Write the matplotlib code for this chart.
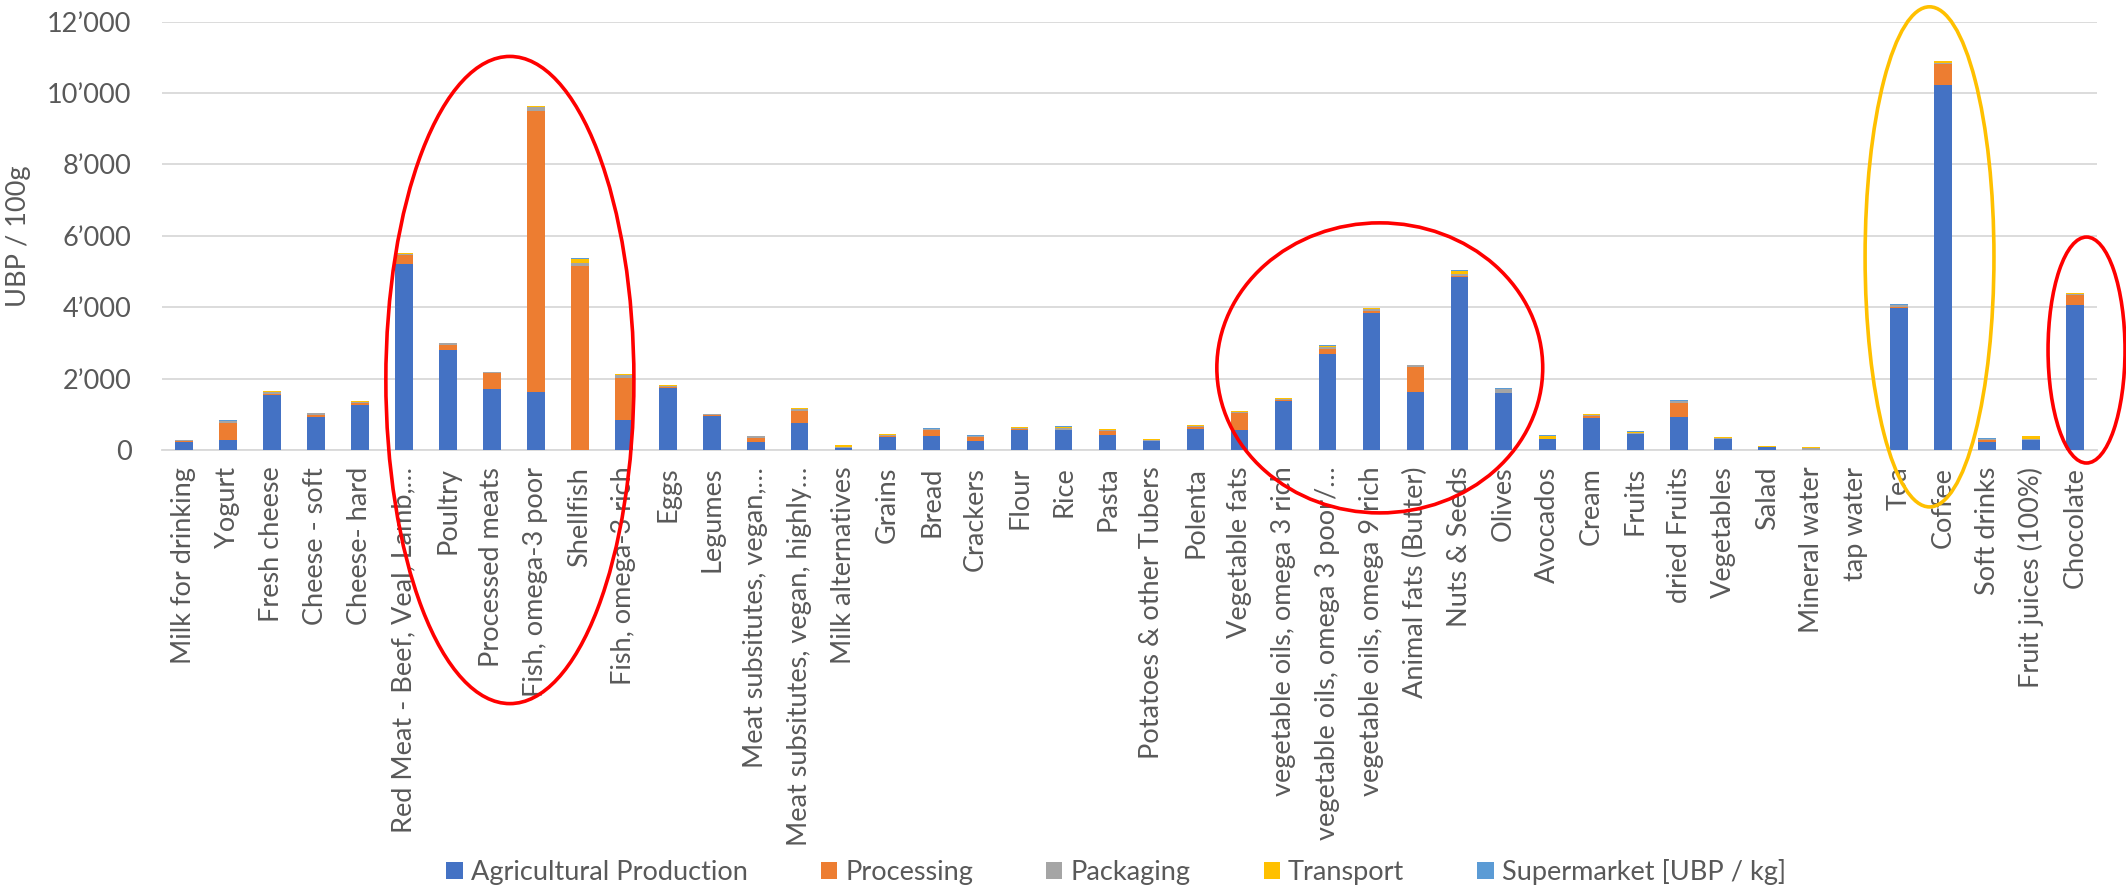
import numpy as np
import matplotlib
matplotlib.use("Agg")
import matplotlib.pyplot as plt
from matplotlib.patches import Ellipse
from matplotlib.ticker import FuncFormatter

plt.rcParams['font.family'] = ['Lato', 'DejaVu Sans']

# categories and stacked values (UBP / 100g)
categories = [
    "Milk for drinking", "Yogurt", "Fresh cheese", "Cheese - soft", "Cheese- hard",
    "Red Meat - Beef, Veal, Lamb,\u2026", "Poultry", "Processed meats",
    "Fish, omega-3 poor", "Shellfish", "Fish, omega-3 rich", "Eggs", "Legumes",
    "Meat subsitutes, vegan,\u2026", "Meat subsitutes, vegan, highly\u2026",
    "Milk alternatives", "Grains", "Bread", "Crackers", "Flour", "Rice", "Pasta",
    "Potatoes & other Tubers", "Polenta", "Vegetable fats",
    "vegetable oils, omega 3 rich", "vegetable oils, omega 3 poor/\u2026",
    "vegetable oils, omega 9 rich", "Animal fats (Butter)", "Nuts & Seeds",
    "Olives", "Avocados", "Cream", "Fruits", "dried Fruits", "Vegetables",
    "Salad", "Mineral water", "tap water", "Tea", "Coffee", "Soft drinks",
    "Fruit juices (100%)", "Chocolate",
]

agricultural = [220, 290, 1530, 925, 1250, 5220, 2810, 1700, 1625, 0, 850, 1750, 950,
                225, 755, 55, 365, 390, 250, 550, 550, 410, 245, 580, 560,
                1370, 2680, 3850, 1635, 4855, 1590, 300, 905, 455, 925, 300,
                75, 0, 0, 3985, 10215, 237, 285, 4060]
processing = [20, 470, 45, 60, 65, 240, 140, 455, 7870, 5160, 1180, 15, 20,
              110, 335, 10, 15, 160, 110, 30, 10, 110, 10, 70, 465,
              40, 150, 55, 700, 30, 5, 0, 45, 0, 395, 10,
              0, 0, 0, 20, 600, 30, 5, 285]
packaging = [30, 50, 55, 40, 40, 35, 45, 25, 100, 65, 65, 40, 30,
             50, 60, 30, 45, 30, 30, 35, 55, 40, 30, 30, 40,
             30, 45, 50, 35, 45, 105, 10, 35, 20, 40, 30,
             10, 45, 0, 45, 30, 45, 25, 35]
transport = [10, 10, 10, 10, 10, 10, 10, 5, 45, 130, 25, 10, 15,
             15, 25, 35, 10, 15, 15, 15, 40, 15, 10, 10, 15,
             10, 45, 25, 15, 95, 20, 90, 10, 40, 20, 10,
             25, 25, 0, 20, 45, 5, 65, 15]
supermarket = [5, 15, 10, 5, 5, 5, 5, 5, 10, 30, 10, 5, 5,
               5, 5, 5, 5, 10, 5, 5, 5, 5, 5, 5, 10,
               5, 20, 10, 5, 25, 15, 10, 5, 10, 15, 5,
               10, 5, 0, 15, 10, 5, 15, 15]

series_names = ["Agricultural Production", "Processing", "Packaging", "Transport",
                "Supermarket [UBP / kg]"]
series_colors = ["#4472C4", "#ED7D31", "#A5A5A5", "#FFC000", "#5B9BD5"]

# highlight ellipses: (x centre in category units, y centre, width, height, colour)
highlights = [
    (7.41, 1960, 5.64, 18130, "#FF0000"),
    (27.19, 2300, 7.41, 8125, "#FF0000"),
    (39.69, 5410, 2.93, 14010, "#FFC000"),
    (43.26, 2800, 1.75, 6330, "#FF0000"),
]

text_color = "#595959"
grid_color = "#D9D9D9"
fs = 19.5

fig = plt.figure(figsize=(21.26, 8.9), dpi=100)
ax = fig.add_axes([0.0762, 0.4944, 0.9102, 0.4813])

x = np.arange(len(categories))
bottom = np.zeros(len(categories))
for name, vals, col in zip(series_names,
                           [agricultural, processing, packaging, transport, supermarket],
                           series_colors):
    vals = np.array(vals, dtype=float)
    ax.bar(x, vals, width=0.4, bottom=bottom, color=col, label=name, zorder=3)
    bottom += vals

ax.set_xlim(-0.5, len(categories) - 0.5)
ax.set_ylim(0, 12000)
ax.set_yticks(np.arange(0, 12001, 2000))
ax.yaxis.set_major_formatter(FuncFormatter(lambda v, p: f"{int(v):,}".replace(",", "\u2019")))
ax.set_xticks(x)
ax.set_xticklabels(categories, rotation=90, fontsize=fs, color=text_color)
ax.tick_params(axis='y', length=0, pad=22, labelsize=fs, labelcolor=text_color)
ax.tick_params(axis='x', length=0, pad=12)

ax.grid(axis='y', color=grid_color, linewidth=1.3, zorder=0)
for s in ['top', 'right', 'left']:
    ax.spines[s].set_visible(False)
ax.spines['bottom'].set_color(grid_color)
ax.spines['bottom'].set_linewidth(1.3)

# y label sits close to the figure edge
ax.set_ylabel("UBP / 100g", fontsize=fs, color=text_color)
ax.yaxis.set_label_coords(31 / 2126, 0.7350, transform=fig.transFigure)

for cx, cy, w, h, col in highlights:
    ax.add_patch(Ellipse((cx, cy), w, h, fill=False, edgecolor=col, linewidth=2.6,
                         clip_on=False, zorder=5))

fig.legend(loc='center', bbox_to_anchor=(0.525, 1 - 872 / 890), ncol=5, frameon=False,
           fontsize=fs, labelcolor=text_color, handlelength=0.6, handleheight=0.6,
           handletextpad=0.3, columnspacing=2.7)

fig.savefig("out.png", dpi=100)
